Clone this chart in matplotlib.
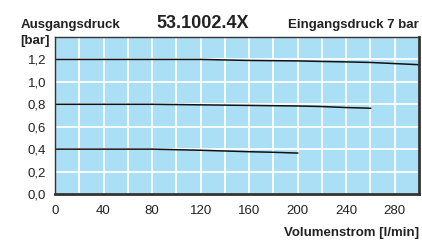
import matplotlib
matplotlib.use("Agg")
import matplotlib.pyplot as plt
from matplotlib.ticker import MultipleLocator, FuncFormatter

plt.rcParams['font.family'] = ['Liberation Sans', 'DejaVu Sans']

# Data
x_top = [0, 40, 80, 120, 160, 200, 220, 240, 260, 280, 300]
y_top = [1.20, 1.20, 1.20, 1.20, 1.191, 1.187, 1.182, 1.178, 1.173, 1.163, 1.153]
x_mid = [0, 40, 80, 120, 160, 200, 220, 240, 260]
y_mid = [0.80, 0.80, 0.80, 0.795, 0.79, 0.785, 0.78, 0.771, 0.765]
x_low = [0, 40, 80, 120, 160, 180, 200]
y_low = [0.40, 0.40, 0.40, 0.39, 0.377, 0.372, 0.365]

x_ticks = [0, 40, 80, 120, 160, 200, 240, 280]
y_ticks = [0.0, 0.2, 0.4, 0.6, 0.8, 1.0, 1.2]

W, H = 422, 248
fig = plt.figure(figsize=(W / 100, H / 100), dpi=100)
ax = fig.add_axes([55 / W, (H - 194) / H, (419 - 55) / W, (194 - 37) / H])
ax.set_facecolor('#abdff6')
ax.set_xlim(0, 300)
ax.set_ylim(0, 1.4)

ax.xaxis.set_minor_locator(MultipleLocator(20))
ax.yaxis.set_minor_locator(MultipleLocator(0.2))
ax.set_xticks(x_ticks)
ax.set_yticks(y_ticks)
ax.grid(True, which='both', color='white', linewidth=1.3)
ax.set_axisbelow(True)
ax.yaxis.set_major_formatter(FuncFormatter(lambda v, p: f"{v:.1f}".replace('.', ',')))

ax.tick_params(which='both', length=0)
ax.tick_params(axis='x', pad=8, labelsize=9.5, colors='#222222')
ax.tick_params(axis='y', pad=6.5, labelsize=9.5, colors='#222222')

for s in ax.spines.values():
    s.set_color('#333333')
ax.spines['left'].set_linewidth(1.0)
ax.spines['top'].set_linewidth(1.0)
ax.spines['bottom'].set_linewidth(2.0)
ax.spines['right'].set_linewidth(2.0)

for xs, ys in [(x_top, y_top), (x_mid, y_mid), (x_low, y_low)]:
    ax.plot(xs, ys, color='#111111', linewidth=1.1)

fig.text(21 / W, 1 - 25 / H, 'Ausgangsdruck', fontsize=9.5, fontweight='bold',
         ha='left', va='center', color='#222222')
fig.text(20 / W, 1 - 41 / H, '[bar]', fontsize=9.5, fontweight='bold',
         ha='left', va='center', color='#222222')
fig.text(203 / W, 1 - 24 / H, '53.1002.4X', fontsize=13, fontweight='bold',
         ha='center', va='center', color='#222222')
fig.text(419 / W, 1 - 25 / H, 'Eingangsdruck 7 bar', fontsize=9.5, fontweight='bold',
         ha='right', va='center', color='#222222')
fig.text(419 / W, 1 - 233 / H, 'Volumenstrom [l/min]', fontsize=9.5, fontweight='bold',
         ha='right', va='center', color='#222222')

fig.savefig('out.png', dpi=100)
